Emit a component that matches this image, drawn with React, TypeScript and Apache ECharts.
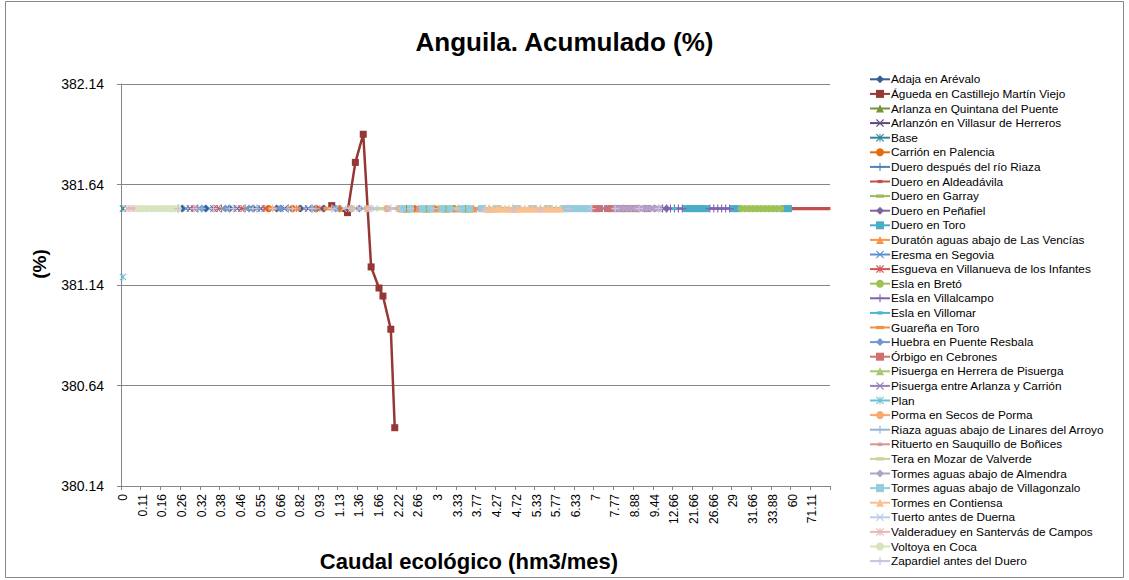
import React, { useEffect, useRef } from 'react';
import * as echarts from 'echarts';

// Category axis: ecological flow values (hm3/mes). Every 5th label is shown in the source.
const categories: string[] = [
  '0', '0.02', '0.04', '0.06', '0.08',
  '0.11', '0.12', '0.13', '0.14', '0.15',
  '0.16', '0.18', '0.2', '0.22', '0.24',
  '0.26', '0.27', '0.28', '0.3', '0.31',
  '0.32', '0.33', '0.34', '0.35', '0.36',
  '0.38', '0.4', '0.42', '0.43', '0.44',
  '0.46', '0.48', '0.5', '0.52', '0.53',
  '0.55', '0.57', '0.6', '0.62', '0.64',
  '0.66', '0.7', '0.73', '0.77', '0.8',
  '0.82', '0.84', '0.86', '0.88', '0.9',
  '0.93', '0.96', '1', '1.05', '1.1',
  '1.13', '1.17', '1.2', '1.25', '1.3',
  '1.36', '1.4', '1.46', '1.53', '1.6',
  '1.66', '1.75', '1.88', '2', '2.13',
  '2.22', '2.33', '2.4', '2.5', '2.6',
  '2.66', '2.73', '2.8', '2.88', '2.93',
  '3', '3.06', '3.13', '3.2', '3.26',
  '3.33', '3.4', '3.5', '3.6', '3.66',
  '3.77', '3.88', '4', '4.1', '4.2',
  '4.27', '4.33', '4.4', '4.5', '4.66',
  '4.72', '4.88', '5', '5.1', '5.2',
  '5.33', '5.4', '5.5', '5.6', '5.66',
  '5.77', '5.88', '6', '6.13', '6.2',
  '6.33', '6.44', '6.5', '6.66', '6.8',
  '7', '7.13', '7.33', '7.5', '7.66',
  '7.77', '8', '8.2', '8.44', '8.66',
  '8.88', '9', '9.1', '9.2', '9.33',
  '9.44', '9.66', '10', '10.66', '11.33',
  '12.66', '13.33', '15', '16.66', '18.33',
  '21.66', '22.33', '23.33', '24.66', '25.33',
  '26.66', '27', '27.66', '28', '28.33',
  '29', '29.66', '30', '30.66', '31',
  '31.66', '32', '32.33', '32.88', '33.33',
  '33.88', '38', '42.22', '48.88', '55',
  '60', '63.33', '65', '66.66', '68.88',
  '71.11', '75', '80', '88.88', '100',
];

const Y_MIN = 380.14;
const Y_MAX = 382.14;
const Y_STEP = 0.5;
const LEVEL = 381.52; // common accumulated value of most series

const seriesNames: string[] = [
  'Adaja en Arévalo', 'Águeda en Castillejo Martín Viejo', 'Arlanza en Quintana del Puente',
  'Arlanzón en Villasur de Herreros', 'Base', 'Carrión en Palencia', 'Duero después del río Riaza',
  'Duero en Aldeadávila', 'Duero en Garray', 'Duero en Peñafiel', 'Duero en Toro',
  'Duratón aguas abajo de Las Vencías', 'Eresma en Segovia', 'Esgueva en Villanueva de los Infantes',
  'Esla en Bretó', 'Esla en Villalcampo', 'Esla en Villomar', 'Guareña en Toro',
  'Huebra en Puente Resbala', 'Órbigo en Cebrones', 'Pisuerga en Herrera de Pisuerga',
  'Pisuerga entre Arlanza y Carrión', 'Plan', 'Porma en Secos de Porma',
  'Riaza aguas abajo de Linares del Arroyo', 'Rituerto en Sauquillo de Boñices', 'Tera en Mozar de Valverde',
  'Tormes aguas abajo de Almendra', 'Tormes aguas abajo de Villagonzalo', 'Tormes en Contiensa',
  'Tuerto antes de Duerna', 'Valderaduey en Santervás de Campos', 'Voltoya en Coca',
  'Zapardiel antes del Duero',
];

const seriesColors: string[] = [
  '#376092', '#953735', '#77933C', '#604A7B', '#31859C', '#E46C0A',
  '#4F81BD', '#C0504D', '#9BBB59', '#8064A2', '#4BACC6', '#F79646',
  '#5B8FD0', '#D35450', '#9DC356', '#8462AE', '#4BB4D0', '#F59040',
  '#7096D1', '#CF706D', '#A9C96F', '#9580B8', '#6CC0D6', '#F9A76A',
  '#95B3D7', '#D99694', '#C3D69B', '#B3A2C7', '#93CDDD', '#FAC090',
  '#B9CDE5', '#E6B9B8', '#D7E4BD', '#CCC1DA',
];

const markerCycle = ['diamond', 'square', 'triangle', 'x', 'star', 'circle', 'plus', 'dash', 'ldash'];

// Category indices where each series has a point
const seriesPoints: number[][] = [
  [15, 21, 27, 33, 39, 45, 51],
  [53, 57, 59, 61, 63, 65, 66, 68, 69],
  [72, 77, 82, 87, 93],
  [17, 23, 29, 35, 41, 47],
  [0],
  [37, 43, 49, 55, 74, 79, 84],
  [19, 25, 31, 42, 48],
  [170, 171, 172, 173, 174, 175, 176, 177, 178, 179],
  [76, 81, 86, 90, 97, 104],
  [127, 131, 135, 138],
  [143, 144, 145, 146, 147, 148, 155, 156, 168, 169],
  [71, 75, 80, 85, 89],
  [16, 22, 28, 34, 40, 46],
  [18, 24, 30, 36, 44, 50],
  [157, 158, 159, 160, 161, 162, 163, 164, 165, 166, 167],
  [137, 138, 139, 140, 141, 142, 149, 150, 151, 152, 153, 154],
  [100, 110, 120, 130, 140],
  [26, 32, 38, 44, 52],
  [20, 26, 32, 40, 48, 54, 60],
  [120, 121, 123, 124, 126, 128, 130, 133],
  [73, 78, 83, 88, 94, 99],
  [122, 125, 129, 132, 134, 136],
  [0],
  [58, 62, 67, 70],
  [14, 20, 27, 34, 42, 49],
  [60, 75, 90, 105],
  [65, 85, 105, 115],
  [125, 126, 127, 128, 129, 130, 131, 132, 133, 134, 135, 136],
  [71, 73, 76, 78, 81, 83, 86, 88, 91, 95, 100, 104, 108, 112, 113, 114, 115, 116, 117, 118],
  [92, 93, 94, 95, 96, 97, 98, 99, 100, 101, 102, 103, 104, 105, 106, 107, 108, 109, 110, 111],
  [54, 56, 58, 60, 62, 64, 67, 70],
  [1, 2, 3, 4],
  [4, 5, 6, 7, 8, 9, 10, 11, 12, 13, 14],
  [14, 18, 23, 28, 33, 38, 43, 48, 53, 58, 63, 68, 73, 79, 85, 92, 99, 106, 113, 119, 125, 131, 136],
];

// Series whose values differ from the common level
const aguedaValues = [381.535, 381.5, 381.75, 381.89, 381.23, 381.125, 381.085, 380.92, 380.43];
const planValues = [381.18];

const SYMBOLS: Record<string, { symbol: string; size: number | number[] }> = {
  diamond: { symbol: 'diamond', size: 8 },
  square: { symbol: 'rect', size: 7 },
  triangle: { symbol: 'triangle', size: 8 },
  x: { symbol: 'path://M1,0L5,4L9,0L10,1L6,5L10,9L9,10L5,6L1,10L0,9L4,5L0,1Z', size: 7 },
  star: {
    symbol: 'path://M1,0L5,4L9,0L10,1L6,5L10,9L9,10L5,6L1,10L0,9L4,5L0,1Z M4.4,0L5.6,0L5.6,10L4.4,10Z',
    size: 7,
  },
  circle: { symbol: 'circle', size: 7 },
  plus: {
    symbol: 'path://M4.3,0L5.7,0L5.7,4.3L10,4.3L10,5.7L5.7,5.7L5.7,10L4.3,10L4.3,5.7L0,5.7L0,4.3L4.3,4.3Z',
    size: 8,
  },
  dash: { symbol: 'path://M0,0L0,0M2,3L8,3L8,7L2,7Z M10,10L10,10', size: 8 },
  ldash: { symbol: 'path://M0,0L0,0M0,3L10,3L10,7L0,7Z M10,10L10,10', size: 9 },
};

const FONT = "'Liberation Sans', Arial, sans-serif";

function buildSeries() {
  return seriesNames.map((name, i) => {
    const vals = i === 1 ? aguedaValues : i === 22 ? planValues : null;
    const pts = seriesPoints[i];
    const data = pts.map((k, j) => [categories[k], (vals ? vals[j] : LEVEL) - Y_MIN]);
    const mk = SYMBOLS[markerCycle[i % 9]];
    return {
      name,
      type: 'line',
      data,
      color: seriesColors[i],
      symbol: mk.symbol,
      symbolSize: mk.size,
      showSymbol: true,
      showAllSymbol: true,
      lineStyle: { width: 2.5, color: seriesColors[i] },
      itemStyle: { color: seriesColors[i] },
      emphasis: { disabled: true },
      silent: true,
    };
  });
}

export default function App() {
  const ref = useRef<HTMLDivElement>(null);
  useEffect(() => {
    if (!ref.current) return;
    const chart = echarts.init(ref.current, undefined, { renderer: 'svg' });
    chart.setOption({
      animation: false,
      backgroundColor: '#ffffff',
      title: {
        text: 'Anguila. Acumulado (%)',
        left: 'center',
        top: 24,
        textStyle: { fontFamily: FONT, fontSize: 26, fontWeight: 'bold', color: '#000' },
      },
      graphic: [
        {
          type: 'rect',
          shape: { x: 5.5, y: 1.5, width: 1118, height: 576 },
          style: { fill: 'none', stroke: '#888888', lineWidth: 1 },
          silent: true,
        },
        {
          type: 'text',
          x: 39,
          y: 264,
          rotation: Math.PI / 2,
          style: {
            text: '(%)',
            font: `bold 19px ${FONT}`,
            fill: '#000',
            align: 'center',
            verticalAlign: 'middle',
          },
        },
        {
          type: 'text',
          x: 469,
          y: 561,
          style: {
            text: 'Caudal ecológico (hm3/mes)',
            font: `bold 22px ${FONT}`,
            fill: '#000',
            align: 'center',
            verticalAlign: 'middle',
          },
        },
      ],
      legend: {
        orient: 'vertical',
        left: 869,
        top: 72,
        itemWidth: 20,
        itemHeight: 10,
        itemGap: 0,
        padding: 0,
        data: seriesNames,
        textStyle: { fontFamily: FONT, fontSize: 11.8, color: '#000', lineHeight: 14.6, padding: [0, 0, 0, -4] },
      },
      grid: { left: 121, right: 299, top: 84, bottom: 94, containLabel: false },
      xAxis: {
        type: 'category',
        data: categories,
        boundaryGap: true,
        axisLine: { lineStyle: { color: '#868686', width: 1 } },
        axisTick: { show: true, interval: 4, length: 4, lineStyle: { color: '#868686' } },
        axisLabel: {
          interval: 4,
          rotate: 90,
          fontFamily: FONT,
          fontSize: 12,
          color: '#000',
          margin: 8,
        },
        splitLine: { show: false },
      },
      yAxis: {
        type: 'value',
        min: 0,
        max: Y_MAX - Y_MIN,
        interval: Y_STEP,
        axisLine: { show: true, lineStyle: { color: '#868686', width: 1 } },
        axisTick: { show: true, length: 4, lineStyle: { color: '#868686' } },
        axisLabel: {
          fontFamily: FONT,
          fontSize: 14,
          color: '#000',
          margin: 17,
          formatter: (v: number) => (v + Y_MIN).toFixed(2),
        },
        splitLine: { show: true, lineStyle: { color: '#868686', width: 1 } },
      },
      series: buildSeries(),
    });
    return () => chart.dispose();
  }, []);
  return (
    <div
      ref={ref}
      style={{ position: 'fixed', left: 0, top: 0, width: 1129, height: 580, background: '#fff' }}
    />
  );
}
